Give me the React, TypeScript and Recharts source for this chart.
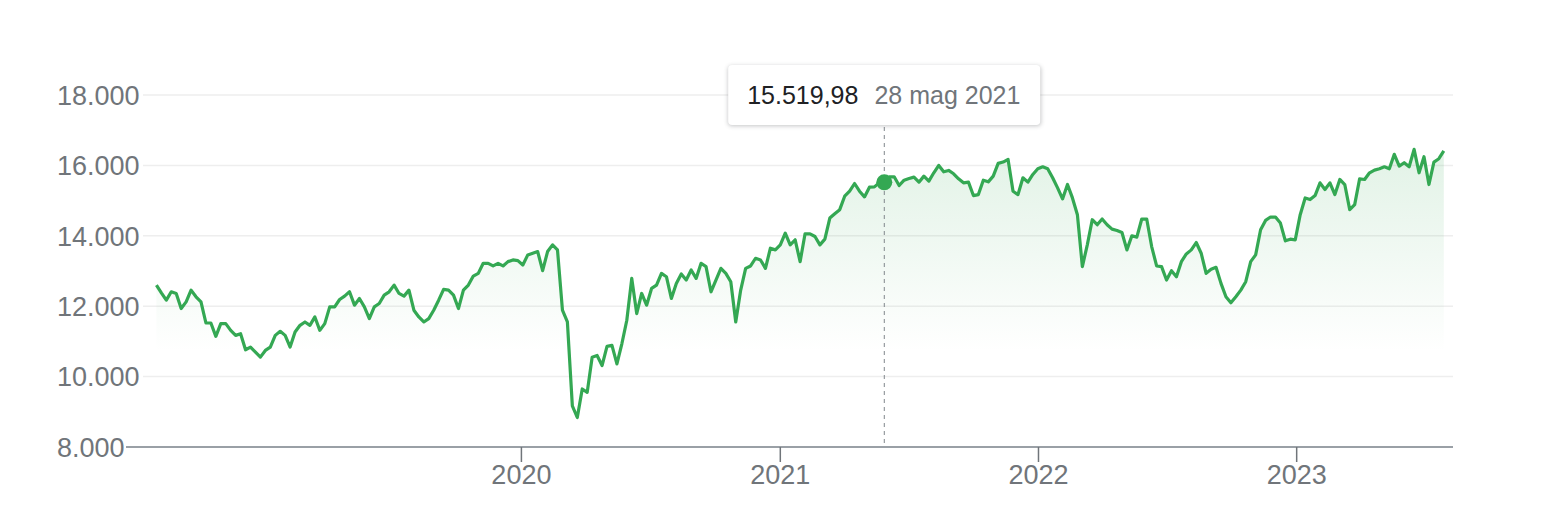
import { AreaChart, Area, XAxis, YAxis, CartesianGrid, Tooltip } from "recharts";

const FONT = "Arial, 'Liberation Sans', sans-serif";

// weekly closes, one Friday after another
const FIRST_WEEK = "2018-08-03";
const AXIS_START = "2018-06-21";
const AXIS_END = "2023-08-10";
const HIGHLIGHT = "2021-05-28";
const YEAR_TICKS = ["2020", "2021", "2022", "2023"];
const VALUE_TICKS = [8000, 10000, 12000, 14000, 16000, 18000];
const MONTHS_IT = ["gen", "feb", "mar", "apr", "mag", "giu", "lug", "ago", "set", "ott", "nov", "dic"];

const close2018 = [
  12600, 12380, 12171, 12409, 12362, 11933, 12124, 12457, 12267, 12124, 11523,
  11523, 11143, 11505, 11505, 11314, 11171, 11219, 10763, 10838, 10695, 10552,
];
const close2019 = [
  10743, 10838, 11171, 11286, 11171, 10838, 11266, 11457, 11552, 11457, 11695,
  11314, 11505, 11981, 11981, 12190, 12286, 12409, 12029, 12219, 11981, 11648,
  11981, 12076, 12314, 12409, 12600, 12362, 12286, 12457, 11886, 11695, 11552,
  11648, 11886, 12171, 12476, 12457, 12314, 11933, 12457, 12600, 12857, 12933,
  13219, 13219, 13143, 13219, 13143, 13266, 13314, 13295,
];
const close2020 = [
  13171, 13457, 13505, 13552, 13010, 13552, 13743, 13600, 11886, 11552, 9171,
  8838, 9648, 9552, 10552, 10600, 10314, 10857, 10886, 10362, 10933, 11600,
  12790, 11790, 12362, 12029, 12505, 12600, 12933, 12838, 12219, 12648, 12914,
  12743, 13029, 12790, 13219, 13124, 12409, 12743, 13076, 12933, 12695, 11552,
  12457, 13076, 13143, 13362, 13314, 13076, 13648, 13600,
];
const close2021 = [
  13743, 14076, 13743, 13886, 13266, 14057, 14057, 13981, 13743, 13905, 14505,
  14628, 14743, 15124, 15267, 15486, 15267, 15105, 15381, 15390, 15505, 15519.98,
  15676, 15676, 15429, 15581, 15629, 15667, 15524, 15695, 15552, 15790, 16000,
  15819, 15857, 15762, 15619, 15505, 15524, 15143, 15171, 15581, 15533, 15695,
  16057, 16095, 16171, 15267, 15171, 15648, 15524, 15743, 15905,
];
const close2022 = [
  15962, 15905, 15648, 15362, 15048, 15457, 15076, 14600, 13124, 13743, 14457,
  14314, 14476, 14314, 14190, 14152, 14095, 13600, 14000, 13962, 14476, 14476,
  13695, 13143, 13124, 12743, 13010, 12838, 13266, 13486, 13600, 13809, 13505,
  12933, 13048, 13105, 12648, 12267, 12095, 12267, 12457, 12695, 13266, 13457,
  14171, 14438, 14533, 14533, 14362, 13857, 13905, 13886,
];
const close2023 = [
  14600, 15076, 15029, 15143, 15505, 15314, 15505, 15171, 15600, 15457, 14743,
  14886, 15619, 15600, 15790, 15867, 15905, 15962, 15905, 16314, 15981, 16076,
  15962, 16457, 15790, 16248, 15457, 16095, 16190, 16410,
];

const DAY = 86400000;
const toTime = (s: string) => Date.parse(s + "T00:00:00Z");

const closes = [...close2018, ...close2019, ...close2020, ...close2021, ...close2022, ...close2023];
const data = closes.map((v, i) => ({ t: toTime(FIRST_WEEK) + i * 7 * DAY, v }));
const highlightIndex = data.findIndex((d) => d.t === toTime(HIGHLIGHT));

function itNumber(n: number, decimals = 0) {
  const [int, dec] = n.toFixed(decimals).split(".");
  const grouped = int.replace(/\B(?=(\d{3})+(?!\d))/g, ".");
  return dec ? grouped + "," + dec : grouped;
}

function itDate(t: number) {
  const d = new Date(t);
  return `${d.getUTCDate()} ${MONTHS_IT[d.getUTCMonth()]} ${d.getUTCFullYear()}`;
}

const YTick = ({ y, payload }: any) => (
  <text x={57} y={y} dy="0.36em" fill="#70757a" fontSize={27} fontFamily={FONT}>
    {itNumber(payload.value)}
  </text>
);

const TipBox = ({ payload }: any) => {
  if (!payload || !payload.length) return null;
  const p = payload[0].payload;
  return (
    <div
      style={{
        transform: "translateX(-50%)",
        background: "#fff",
        borderRadius: 4,
        boxShadow: "0 1px 4px rgba(60,64,67,0.3)",
        height: 60,
        padding: "0 20px 0 19px",
        display: "flex",
        alignItems: "center",
        whiteSpace: "nowrap",
        fontFamily: FONT,
        fontSize: 25,
      }}
    >
      <span style={{ color: "#202124" }}>{itNumber(p.v, 2)}</span>
      <span style={{ color: "#70757a", marginLeft: 16 }}>{itDate(p.t)}</span>
    </div>
  );
};

export default function App() {
  return (
    <div style={{ position: "absolute", left: 0, top: 0, background: "#fff" }}>
      <AreaChart width={1544} height={516} data={data} margin={{ top: 95, right: 91, bottom: 0, left: 0 }}>
        <defs>
          <linearGradient id="fillGreen" x1="0" y1="0" x2="0" y2="1">
            <stop offset="0%" stopColor="#34a853" stopOpacity={0.24} />
            <stop offset="68%" stopColor="#34a853" stopOpacity={0} />
          </linearGradient>
        </defs>
        <CartesianGrid
          vertical={false}
          horizontal={(p: any) => (
            <line key={p.key} x1={p.x1 + 17} y1={p.y1} x2={p.x2} y2={p.y2} stroke="#eeeeee" strokeWidth={1.5} />
          )}
        />
        <XAxis
          type="number"
          dataKey="t"
          domain={[toTime(AXIS_START), toTime(AXIS_END)]}
          ticks={YEAR_TICKS.map((y) => toTime(y + "-01-01"))}
          tickFormatter={(t: number) => String(new Date(t).getUTCFullYear())}
          axisLine={{ stroke: "#9aa0a6", strokeWidth: 2 }}
          tickLine={{ stroke: "#70757a", strokeWidth: 1.5 }}
          tickSize={15}
          tickMargin={3}
          tick={{ fill: "#70757a", fontSize: 27, fontFamily: FONT }}
          height={69}
        />
        <YAxis
          domain={[8000, 18000]}
          ticks={VALUE_TICKS}
          axisLine={false}
          tickLine={false}
          tick={<YTick />}
          width={126}
        />
        <Tooltip
          active
          defaultIndex={highlightIndex}
          position={{ y: 65 }}
          offset={0}
          cursor={{ stroke: "#80868b", strokeWidth: 1, strokeDasharray: "4 4" }}
          content={<TipBox />}
          isAnimationActive={false}
          wrapperStyle={{ outline: "none", zIndex: 10 }}
        />
        <Area
          type="linear"
          dataKey="v"
          stroke="#34a853"
          strokeWidth={3.2}
          strokeLinejoin="round"
          fill="url(#fillGreen)"
          dot={false}
          activeDot={{ r: 8, fill: "#34a853", stroke: "none" }}
          isAnimationActive={false}
        />
      </AreaChart>
    </div>
  );
}
